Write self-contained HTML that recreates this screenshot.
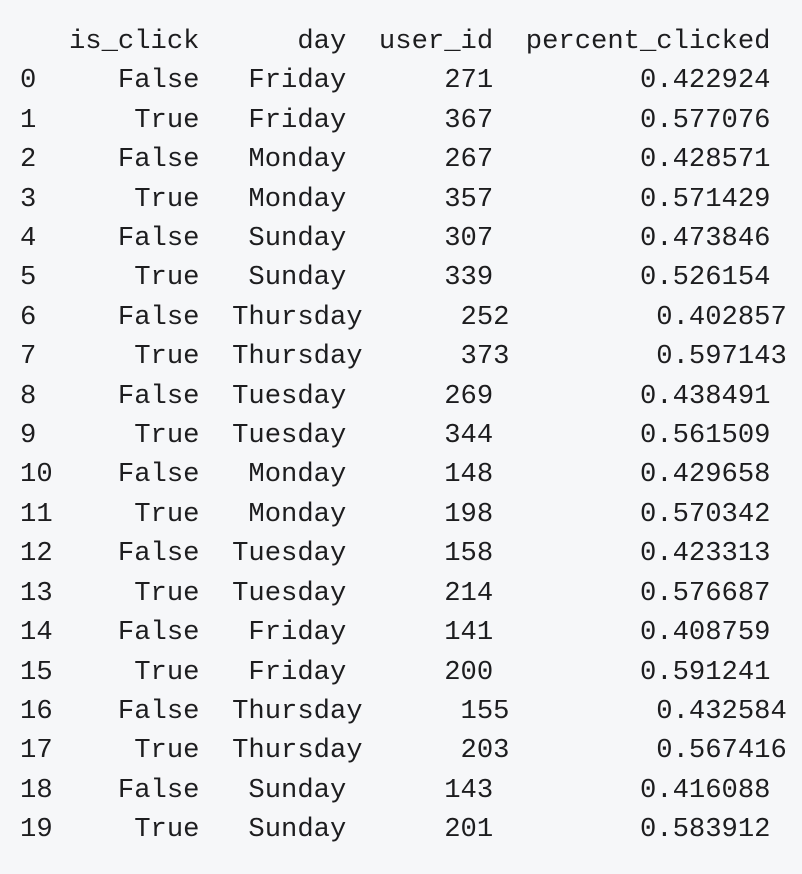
<!DOCTYPE html>
<html>
<head>
<meta charset="utf-8">
<style>
  html, body { margin: 0; padding: 0; }
  body { width: 802px; height: 874px; background: #f6f7f9; overflow: hidden; position: relative; }
  #table {
    position: absolute; left: 20px; top: 22px; margin: 0;
    font-family: "Liberation Mono", "DejaVu Sans Mono", monospace;
    font-size: 27.2px; line-height: 39.42px; color: #1d1d1f;
    white-space: pre;
  }
  .row { display: block; height: 39.42px; }
</style>
</head>
<body>
<div id="table"></div>
<script>
const idx = ["0","1","2","3","4","5","6","7","8","9","10","11","12","13","14","15","16","17","18","19"];
const isClick = ["False","True","False","True","False","True","False","True","False","True","False","True","False","True","False","True","False","True","False","True"];
const days = ["Friday","Friday","Monday","Monday","Sunday","Sunday","Thursday","Thursday","Tuesday","Tuesday","Monday","Monday","Tuesday","Tuesday","Friday","Friday","Thursday","Thursday","Sunday","Sunday"];
const userIds = ["271","367","267","357","307","339","252","373","269","344","148","198","158","214","141","200","155","203","143","201"];
const pct = ["0.422924","0.577076","0.428571","0.571429","0.473846","0.526154","0.402857","0.597143","0.438491","0.561509","0.429658","0.570342","0.423313","0.576687","0.408759","0.591241","0.432584","0.567416","0.416088","0.583912"];

function padL(s, n) { while (s.length < n) s = " " + s; return s; }
function padR(s, n) { while (s.length < n) s = s + " "; return s; }

const table = document.getElementById('table');
const header = document.createElement('span');
header.className = 'row';


header.textContent = "   is_click      day  user_id  percent_clicked";
table.appendChild(header);

for (let i = 0; i < idx.length; i++) {
  const d = days[i];
  const dayCol = d.length > 7 ? "  " + d : padL(d, 9);
  const line = padR(idx[i], 2) + padL(isClick[i], 9) + dayCol + padL(userIds[i], 9) + padL(pct[i], 17);
  const r = document.createElement('span');
  r.className = 'row';
  
  
  r.textContent = line;
  table.appendChild(r);
}
</script>
</body>
</html>
